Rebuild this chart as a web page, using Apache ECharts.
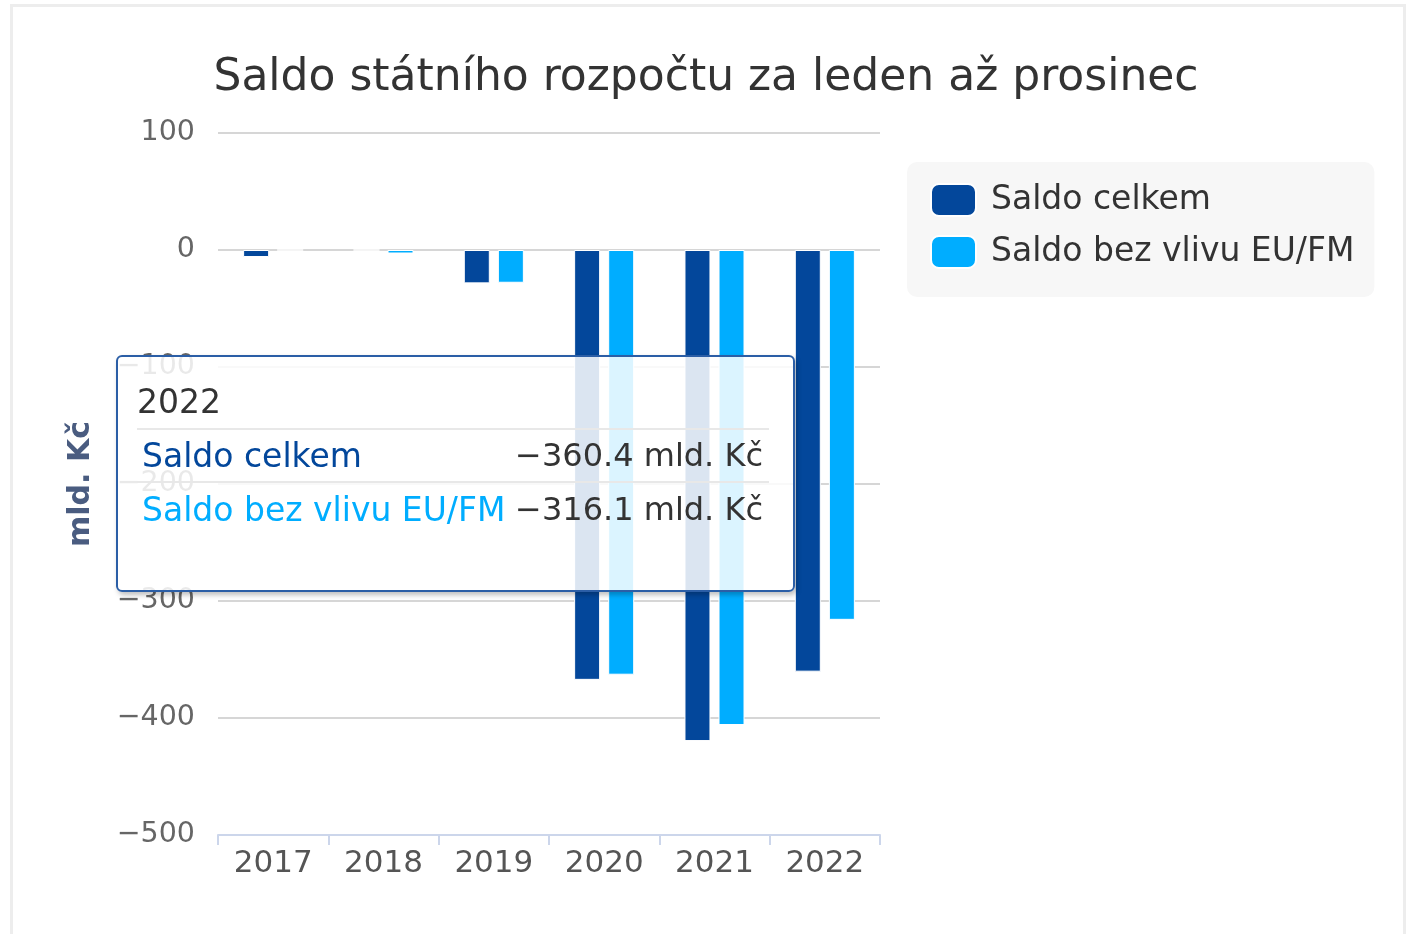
<!DOCTYPE html>
<html>
<head>
<meta charset="utf-8">
<script src="https://cdn.jsdelivr.net/npm/echarts@6/dist/echarts.min.js"></script>
<style>
html,body{margin:0;padding:0;background:#fff;width:1412px;height:934px;overflow:hidden;}
#frame{position:absolute;left:10px;top:4px;width:1396px;height:960px;border:3px solid #ededed;box-sizing:border-box;}
#chart{position:absolute;left:0;top:0;width:1412px;height:934px;}
</style>
</head>
<body>
<div id="frame"></div>
<div id="chart"></div>
<script>
const categories = ['2017', '2018', '2019', '2020', '2021', '2022'];
const saldoCelkem = [-6, 0, -28.5, -367.4, -419.7, -360.4];
const saldoBezEU = [0, -3, -28, -363, -406, -316.1];
const seriesNames = ['Saldo celkem', 'Saldo bez vlivu EU/FM'];
const titleText = 'Saldo státního rozpočtu za leden až prosinec';
const yAxisName = 'mld. Kč';
const unit = 'mld. Kč';

const FONT = 'DejaVu Sans';
const colors = ['#03479b', '#00adff'];
const fmt = v => String(v).replace('-', '\u2212');

const chart = echarts.init(document.getElementById('chart'), null, {renderer: 'canvas'});
chart.setOption({
  animation: false,
  color: colors,
  textStyle: {fontFamily: FONT},
  title: {
    text: titleText,
    left: 'center',
    top: 52,
    textStyle: {fontFamily: FONT, fontSize: 44, fontWeight: 'normal', color: '#333333'}
  },
  legend: {
    orient: 'vertical',
    left: 907,
    top: 162,
    backgroundColor: '#f7f7f7',
    borderRadius: 10,
    padding: [21, 20, 28, 23],
    itemWidth: 45,
    itemHeight: 32,
    itemGap: 18,
    icon: 'roundRect',
    textStyle: {fontFamily: FONT, fontSize: 33, color: '#333333', padding: [4, 0, 0, 10]},
    data: seriesNames
  },
  grid: {left: 218, right: 532, top: 133, bottom: 99, containLabel: false},
  tooltip: {
    trigger: 'axis',
    triggerOn: 'none',
    alwaysShowContent: true,
    transitionDuration: 0,
    axisPointer: {type: 'none'},
    position: [116, 355],
    backgroundColor: 'rgba(255,255,255,0.86)',
    borderColor: '#2b5ea6',
    borderWidth: 2,
    borderRadius: 6,
    padding: 0,
    extraCssText: 'box-shadow:2px 3px 5px rgba(0,0,0,0.25);width:679px;height:237px;box-sizing:border-box;',
    formatter: function (params) {
      let html = '<div style="padding:20px 24px 0 19px;font-family:DejaVu Sans;font-size:33px;color:#333;">';
      html += '<div style="height:51px;line-height:50px;">' + params[0].axisValue + '</div>';
      html += '<table style="border-collapse:collapse;width:100%;font-size:32px;font-family:DejaVu Sans;">';
      params.forEach((p, i) => {
        html += '<tr style="border-top:2px solid #e8e8e8;height:53px;">' +
          '<td style="padding:0 0 0 5px;color:' + p.color + ';white-space:nowrap;font-size:33px;">' + p.seriesName + '</td>' +
          '<td style="padding:0 6px 0 0;text-align:right;color:#333;white-space:nowrap;">' + fmt(p.value) + ' ' + unit + '</td></tr>';
      });
      html += '</table></div>';
      return html;
    }
  },
  xAxis: {
    type: 'category',
    data: categories,
    axisLine: {onZero: false, lineStyle: {color: '#ccd6eb', width: 2}},
    axisTick: {show: true, length: 10, lineStyle: {color: '#ccd6eb', width: 2}},
    axisLabel: {fontFamily: FONT, fontSize: 31, color: '#555555', margin: 13},
    splitLine: {show: false}
  },
  yAxis: {
    type: 'value',
    min: -500,
    max: 100,
    interval: 100,
    name: yAxisName,
    nameLocation: 'middle',
    nameRotate: 90,
    nameGap: 122,
    nameTextStyle: {fontFamily: FONT, fontSize: 30, fontWeight: 'bold', color: '#4a5c80'},
    axisLine: {show: false},
    axisTick: {show: false},
    axisLabel: {fontFamily: FONT, fontSize: 28.5, color: '#666666', margin: 23, formatter: fmt, padding: [4, 0, 0, 0]},
    splitLine: {lineStyle: {color: '#d6d6d6', width: 2}}
  },
  series: [
    {
      name: seriesNames[0],
      type: 'bar',
      data: saldoCelkem,
      barWidth: 26,
      barGap: '31%',
      itemStyle: {borderColor: '#ffffff', borderWidth: 1},
      emphasis: {disabled: true}
    },
    {
      name: seriesNames[1],
      type: 'bar',
      data: saldoBezEU,
      barWidth: 26,
      itemStyle: {borderColor: '#ffffff', borderWidth: 1},
      emphasis: {disabled: true}
    }
  ]
});
chart.dispatchAction({type: 'showTip', seriesIndex: 0, dataIndex: 5});
</script>
</body>
</html>
